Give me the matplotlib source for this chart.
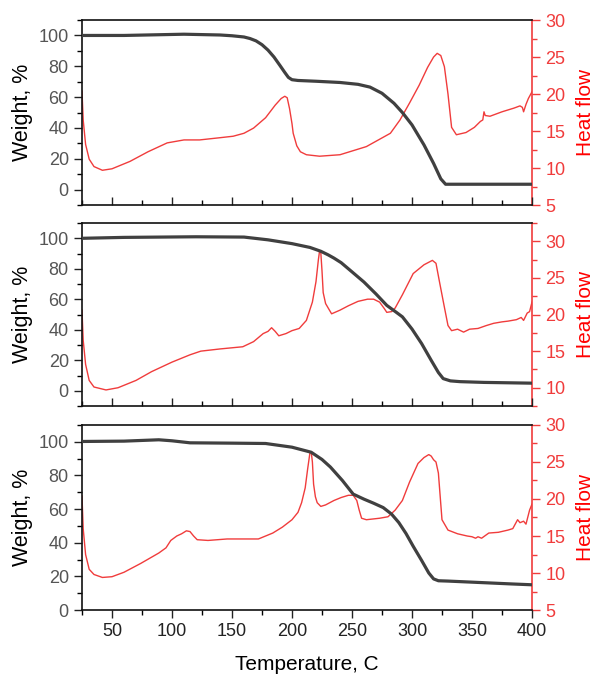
import numpy as np
import matplotlib.pyplot as plt
from matplotlib.ticker import MultipleLocator

plt.rcParams['font.family'] = ['Liberation Sans', 'DejaVu Sans']

# TGA weight loss (%) and DSC heat flow for three samples, vs temperature (C)
t_w1 = [25, 60, 110, 140, 150, 160, 165, 170, 175, 180, 185, 190, 194, 197, 200, 205,
        220, 240, 255, 265, 275, 285, 292, 300, 310, 318, 324, 328, 340, 400]
w1 = [100, 100, 100.8, 100.3, 99.8, 99, 98, 96.5, 94, 90.5, 86, 80.5, 76, 72.8, 71.3,
      70.8, 70.3, 69.5, 68.3, 66.5, 62.5, 56, 50, 42, 29, 17, 7, 3.5, 3.5, 3.5]

t_h1 = [25, 26, 28, 31, 35, 42, 50, 65, 80, 96, 110, 123, 140, 151, 160, 168, 178, 186,
        191, 194, 196, 198, 200, 201, 204, 207, 212, 223, 240, 262, 272, 282, 290, 298,
        306, 313, 318, 321, 324, 327, 330, 333, 337, 345, 352, 357, 359, 360, 361, 365,
        375, 385, 390, 392, 393, 395, 397, 400]
h1 = [20.4, 16.5, 13.2, 11.2, 10.2, 9.7, 9.9, 10.9, 12.2, 13.4, 13.8, 13.8, 14.1, 14.3,
      14.7, 15.4, 16.8, 18.5, 19.4, 19.7, 19.5, 18.0, 16.0, 14.7, 13.0, 12.2, 11.8, 11.6,
      11.8, 12.9, 13.8, 14.7, 16.5, 18.8, 21.2, 23.6, 25.0, 25.5, 25.2, 23.7, 20.0, 15.5,
      14.5, 14.8, 15.5, 16.3, 16.5, 17.6, 17.1, 17.0, 17.6, 18.1, 18.4, 18.2, 17.6, 18.6,
      19.4, 20.3]

t_w2 = [25, 60, 120, 160, 180, 200, 215, 224, 230, 235, 241, 250, 260, 270, 279, 286,
        292, 300, 308, 316, 322, 326, 332, 340, 360, 400]
w2 = [100, 100.6, 101, 100.8, 99, 96.5, 94, 91.5, 89.2, 87, 84, 78, 71.3, 63.5, 56, 52,
      48.5, 40.5, 31, 20, 12, 8, 6.5, 6, 5.5, 5]

t_h2 = [25, 26, 28, 31, 35, 45, 55, 70, 83, 100, 115, 124, 140, 159, 168, 176, 180, 183,
        186, 189, 195, 200, 206, 212, 217, 220, 222, 223, 224, 225, 226, 228, 233, 240,
        247, 255, 263, 268, 273, 277, 279, 283, 286, 292, 301, 310, 317, 320, 323, 327,
        330, 333, 338, 343, 348, 355, 362, 368, 375, 380, 387, 391, 393, 396, 398, 400]
h2 = [20.6, 16.5, 13.2, 11.0, 10.1, 9.7, 10.0, 11.0, 12.2, 13.5, 14.5, 15.0, 15.3, 15.6,
      16.3, 17.4, 17.7, 18.2, 17.7, 17.1, 17.4, 17.8, 18.1, 19.2, 21.7, 24.5, 27.5, 28.7,
      28.5, 26.0, 23.0, 21.5, 20.1, 20.6, 21.2, 21.8, 22.1, 22.1, 21.7, 20.8, 20.3, 20.4,
      20.9, 22.7, 25.6, 26.8, 27.4, 27.0, 24.4, 21.0, 18.5, 17.8, 18.0, 17.6, 18.0, 18.1,
      18.5, 18.8, 19.0, 19.1, 19.3, 19.6, 19.2, 20.2, 20.4, 21.7]

t_w3 = [25, 60, 89, 100, 115, 150, 178, 200, 216, 225, 232, 242, 251, 260, 268, 276,
        283, 289, 295, 301, 308, 314, 318, 322, 330, 352, 383, 400]
w3 = [100.2, 100.4, 101.2, 100.6, 99.4, 99.2, 99, 96.8, 93.8, 89.5, 85, 77, 68.9, 65.9,
      63.5, 60.9, 57, 52, 45.5, 37.9, 29.5, 22, 18.5, 17.4, 17.2, 16.5, 15.5, 15]

t_h3 = [25, 26, 28, 31, 35, 42, 50, 60, 74, 89, 95, 99, 104, 108, 112, 115, 118, 121,
        130, 146, 160, 172, 184, 192, 200, 205, 208, 211, 213, 215, 216, 217, 218, 219.5,
        221, 224, 228, 235, 241, 247, 251, 254, 256, 258, 262, 273, 280, 286, 292, 298,
        305, 310, 314, 316, 318, 320, 322, 325, 330, 338, 346, 350, 353, 355, 358, 364,
        372, 380, 384, 388, 390, 393, 395, 398, 400]
h3 = [20.4, 16.0, 12.5, 10.5, 9.8, 9.4, 9.5, 10.1, 11.3, 12.7, 13.4, 14.4, 15.0, 15.3,
      15.7, 15.6, 15.0, 14.5, 14.4, 14.6, 14.6, 14.6, 15.4, 16.2, 17.2, 18.2, 19.5, 21.5,
      24.0, 26.3, 26.4, 25.0, 22.0, 20.3, 19.5, 19.0, 19.2, 19.8, 20.2, 20.5, 20.5, 19.8,
      18.5, 17.4, 17.2, 17.4, 17.6, 18.5, 19.8, 22.3, 24.8, 25.6, 26.0, 25.8, 25.3, 25.0,
      23.5, 17.2, 15.8, 15.3, 15.0, 14.9, 14.7, 14.9, 14.7, 15.4, 15.5, 15.8, 16.0, 17.2,
      16.8, 17.0, 16.6, 18.5, 19.3]

panels = [
    (t_w1, w1, t_h1, h1, (-10, 110), (5, 30), [5, 10, 15, 20, 25, 30]),
    (t_w2, w2, t_h2, h2, (-10, 110), (7.5, 32.5), [10, 15, 20, 25, 30]),
    (t_w3, w3, t_h3, h3, (0, 110), (5, 30), [5, 10, 15, 20, 25, 30]),
]
# axes boxes in figure fractions: left, bottom, width, height
boxes = [
    [0.1378, 0.698, 0.7563, 0.2725],
    [0.1378, 0.402, 0.7563, 0.2695],
    [0.1378, 0.1016, 0.7563, 0.2725],
]

black = '#404040'
red = '#f03c3c'
tick_gray = '#555555'

fig = plt.figure(figsize=(5.95, 6.79), dpi=100)

for i, (tw, w, th, h, wlim, hlim, hticks) in enumerate(panels):
    ax = fig.add_axes(boxes[i])
    ax2 = ax.twinx()
    ax.set_zorder(ax2.get_zorder() + 1)
    ax.patch.set_visible(False)

    ax.plot(tw, w, color=black, lw=2.3, solid_capstyle='round', zorder=3)
    ax2.plot(th, h, color=red, lw=1.0)

    ax.set_xlim(25, 400)
    ax.set_ylim(*wlim)
    ax2.set_ylim(*hlim)

    ax.xaxis.set_major_locator(MultipleLocator(50))
    ax.xaxis.set_minor_locator(MultipleLocator(25))
    ax.yaxis.set_major_locator(MultipleLocator(20))
    ax.yaxis.set_minor_locator(MultipleLocator(10))
    ax2.set_yticks(hticks)
    ax2.yaxis.set_minor_locator(MultipleLocator(2.5))

    last = i == len(panels) - 1
    xdir = 'out' if last else 'in'
    ax.tick_params(axis='x', which='major', direction=xdir, length=6, width=1,
                   labelbottom=last, labelsize=13, colors='#222222')
    ax.tick_params(axis='x', which='minor', direction=xdir, length=3.5, width=1)
    ax.tick_params(axis='y', which='major', direction='out', length=6, width=1,
                   labelsize=13, labelcolor=tick_gray, color='#222222')
    ax.tick_params(axis='y', which='minor', direction='out', length=3.5, width=1)
    ax2.tick_params(axis='y', which='major', direction='out', length=6, width=1,
                    labelsize=13, colors=red)
    ax2.tick_params(axis='y', which='minor', direction='out', length=3.5, width=1,
                    colors=red)

    for s in ['left', 'bottom', 'top']:
        ax.spines[s].set_linewidth(1.2)
        ax.spines[s].set_color('#111111')
    ax.spines['right'].set_visible(False)
    ax2.spines['right'].set_color(red)
    ax2.spines['right'].set_linewidth(1.2)
    for s in ['left', 'bottom', 'top']:
        ax2.spines[s].set_visible(False)

    ax.set_ylabel('Weight, %', fontsize=15.5, color='black')
    ax.yaxis.set_label_coords(-0.108, 0.5)
    ax2.set_ylabel('Heat flow', fontsize=15, color='#ff0000', rotation=90)
    ax2.yaxis.set_label_coords(1.097, 0.5)

fig.text(0.1378 + 0.7563 / 2, 0.021, 'Temperature, C', ha='center', va='center',
         fontsize=15)

fig.savefig('out.png', dpi=100)
